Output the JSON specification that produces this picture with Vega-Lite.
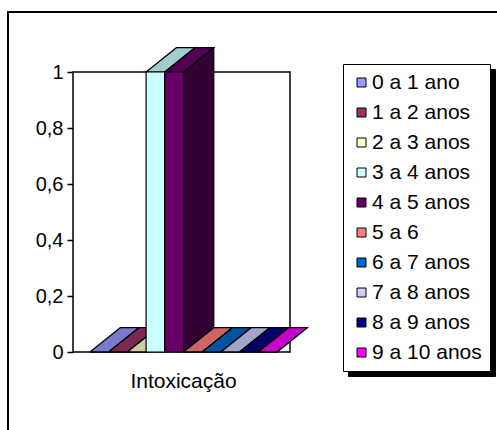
{
  "$schema": "https://vega.github.io/schema/vega-lite/v6.json",
  "autosize": {"type": "none"},
  "width": 491,
  "height": 420,
  "padding": {"left": 8, "top": 12, "right": -2, "bottom": -2},
  "background": "white",
  "config": {
    "view": {"stroke": "black", "strokeWidth": 2, "fill": "white"},
    "font": "Liberation Sans",
    "axis": {"labelColor": "black", "titleColor": "black", "tickColor": "black", "grid": false}
  },
  "data": {
    "values": [
      {"categoria": "Intoxicação", "faixa": "0 a 1 ano", "valor": 0},
      {"categoria": "Intoxicação", "faixa": "1 a 2 anos", "valor": 0},
      {"categoria": "Intoxicação", "faixa": "2 a 3 anos", "valor": 0},
      {"categoria": "Intoxicação", "faixa": "3 a 4 anos", "valor": 1},
      {"categoria": "Intoxicação", "faixa": "4 a 5 anos", "valor": 1},
      {"categoria": "Intoxicação", "faixa": "5 a 6", "valor": 0},
      {"categoria": "Intoxicação", "faixa": "6 a 7 anos", "valor": 0},
      {"categoria": "Intoxicação", "faixa": "7 a 8 anos", "valor": 0},
      {"categoria": "Intoxicação", "faixa": "8 a 9 anos", "valor": 0},
      {"categoria": "Intoxicação", "faixa": "9 a 10 anos", "valor": 0}
    ]
  },
  "transform": [
    {"window": [{"op": "row_number", "as": "n"}]},
    {"calculate": "datum.n - 1", "as": "a"},
    {"calculate": "datum.n", "as": "a1"}
  ],
  "layer": [
    {
      "data": {"values": [{}]},
      "mark": {"type": "rect", "fill": "white", "stroke": "black", "strokeWidth": 1.5},
      "encoding": {
        "x": {
          "datum": -0.90909,
          "type": "quantitative",
          "scale": {"domain": [-4.38503, 21.87166], "nice": false, "zero": false},
          "axis": {
            "orient": "bottom",
            "offset": -80,
            "domain": false,
            "ticks": false,
            "labels": false,
            "title": "Intoxicação",
            "titleFont": "Liberation Sans",
            "titleFontSize": 21,
            "titleFontWeight": "normal",
            "titleX": 175,
            "titleY": 35,
            "titleAlign": "center",
            "titleBaseline": "alphabetic"
          }
        },
        "x2": {"datum": 10.6952},
        "y": {
          "datum": 0,
          "type": "quantitative",
          "scale": {"domain": [-0.285714, 1.214286], "nice": false, "zero": false},
          "axis": {
            "orient": "left",
            "offset": -65,
            "domain": false,
            "values": [0, 0.2, 0.4, 0.6, 0.8, 1],
            "labelExpr": "replace(format(datum.value, '.1~f'), '.', ',')",
            "labelFont": "Liberation Sans",
            "labelFontSize": 20,
            "labelPadding": 4,
            "tickSize": 6,
            "tickWidth": 1.5,
            "title": null
          }
        },
        "y2": {"datum": 1}
      }
    },
    {
      "transform": [
        {"calculate": "['topo', 'lado']", "as": "faces"},
        {"flatten": ["faces"], "as": ["face"]},
        {"calculate": "[0, 1, 2, 3, 4]", "as": "vs"},
        {"flatten": ["vs"], "as": ["v"]},
        {"calculate": "datum.v % 4", "as": "k"},
        {"calculate": "datum.face == 'topo' ? datum.a + ((datum.k == 1 || datum.k == 2) ? 1 : 0) + ((datum.k == 2 || datum.k == 3) ? 1.62 : 0) : datum.a + 1 + ((datum.k == 1 || datum.k == 2) ? 1.62 : 0)", "as": "px"},
        {"calculate": "datum.face == 'topo' ? datum.valor + ((datum.k == 2 || datum.k == 3) ? 0.0868 : 0) : ((datum.k == 2 || datum.k == 3) ? datum.valor : 0) + ((datum.k == 1 || datum.k == 2) ? 0.0868 : 0)", "as": "py"},
        {"calculate": "datum.faixa + '|' + datum.face", "as": "chave"}
      ],
      "mark": {"type": "line", "stroke": "black", "strokeWidth": 1.2, "strokeJoin": "miter"},
      "encoding": {
        "x": {"field": "px", "type": "quantitative", "title": "Intoxicação"},
        "y": {"field": "py", "type": "quantitative", "title": null},
        "order": {"field": "v", "type": "quantitative"},
        "fill": {
          "field": "chave",
          "type": "nominal",
          "legend": null,
          "scale": {
            "domain": [
              "0 a 1 ano|topo", "0 a 1 ano|lado",
              "1 a 2 anos|topo", "1 a 2 anos|lado",
              "2 a 3 anos|topo", "2 a 3 anos|lado",
              "3 a 4 anos|topo", "3 a 4 anos|lado",
              "4 a 5 anos|topo", "4 a 5 anos|lado",
              "5 a 6|topo", "5 a 6|lado",
              "6 a 7 anos|topo", "6 a 7 anos|lado",
              "7 a 8 anos|topo", "7 a 8 anos|lado",
              "8 a 9 anos|topo", "8 a 9 anos|lado",
              "9 a 10 anos|topo", "9 a 10 anos|lado"
            ],
            "range": [
              "#7A7ACC", "#4D4D80",
              "#7A2952", "#4D1A33",
              "#CCCCA3", "#808066",
              "#A3CCCC", "#668080",
              "#520052", "#330033",
              "#CC6666", "#804040",
              "#0052A3", "#003366",
              "#A3A3CC", "#666680",
              "#000066", "#000040",
              "#CC00CC", "#800080"
            ]
          }
        }
      }
    },
    {
      "transform": [{"calculate": "datum.faixa", "as": "faixa_sombra"}],
      "mark": {"type": "point", "opacity": 0},
      "encoding": {
        "x": {"field": "a", "type": "quantitative", "title": "Intoxicação"},
        "y": {"field": "valor", "type": "quantitative", "title": null},
        "shape": {
          "field": "faixa_sombra",
          "type": "nominal",
          "scale": {"range": ["square"]},
          "legend": {
            "title": null,
            "orient": "none",
            "legendX": 340,
            "legendY": 57,
            "zindex": 0,
            "fillColor": "black",
            "strokeColor": "black",
            "padding": 8,
            "rowPadding": 8,
            "symbolSize": 81,
            "symbolFillColor": "black",
            "symbolStrokeColor": "black",
            "labelExpr": "''",
            "labelFont": "Liberation Sans",
            "labelFontSize": 21,
            "labelColor": "black",
            "labelOffset": 110
          }
        }
      }
    },
    {
      "mark": {"type": "rect", "stroke": "black", "strokeWidth": 1.2},
      "encoding": {
        "x": {"field": "a", "type": "quantitative", "title": "Intoxicação"},
        "x2": {"field": "a1"},
        "y": {"field": "valor", "type": "quantitative", "title": null},
        "y2": {"datum": 0},
        "color": {
          "field": "faixa",
          "type": "nominal",
          "scale": {
            "range": ["#9999FF", "#993366", "#FFFFCC", "#CCFFFF", "#660066", "#FF8080", "#0066CC", "#CCCCFF", "#000080", "#FF00FF"]
          },
          "legend": {
            "title": null,
            "orient": "none",
            "legendX": 335,
            "legendY": 52,
            "zindex": 1,
            "fillColor": "white",
            "strokeColor": "black",
            "padding": 8,
            "rowPadding": 8,
            "symbolType": "square",
            "symbolSize": 81,
            "symbolStrokeColor": "black",
            "symbolStrokeWidth": 1,
            "symbolOpacity": 1,
            "labelFont": "Liberation Sans",
            "labelFontSize": 21,
            "labelColor": "black",
            "labelOffset": 0
          }
        }
      }
    }
  ]
}
